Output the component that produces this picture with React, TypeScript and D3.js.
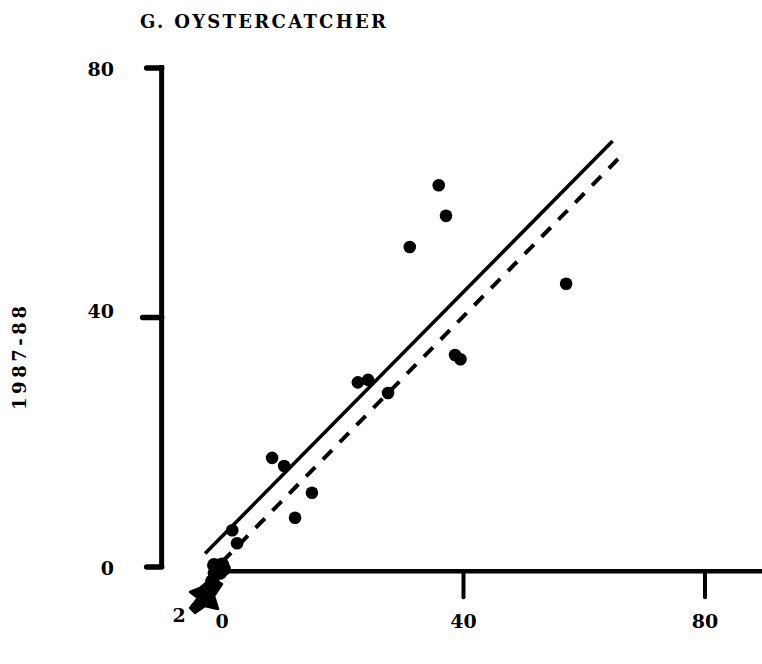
import React from "react";
import * as d3 from "d3";

// Chart text
const chartTitle = "G. OYSTERCATCHER";
const yAxisTitle = "1987-88";
const overlapLabel = "2";

// Axis ticks
const xTicks = [0, 40, 80];
const yTicks = [0, 40, 80];

// Site counts: earlier season (x) vs 1987-88 (y)
const siteX = [35.9, 37.1, 31.1, 57.0, 38.6, 39.5, 22.5, 24.2, 27.5, 8.3, 10.3, 14.9, 12.1, 1.7, 2.5];
const siteY = [61.2, 56.3, 51.3, 45.4, 34.0, 33.3, 29.6, 30.0, 27.9, 17.5, 16.2, 11.9, 7.9, 5.9, 3.8];

// Sites piled up at or below the origin
const originX = [-0.7, 0.0, -1.3, -0.3, -1.2, 0.3, -1.6, -2.0, -2.6];
const originY = [0.0, 0.4, 0.3, -0.9, -1.0, -0.3, -2.3, -3.5, -4.6];

// Off-scale marker pointing below the origin
const arrowX = [-1.66, -3.64, -5.3, -3.98, -5.3, -4.47, -2.82, -0.66, -1.32, 0];
const arrowY = [-1.76, -3.37, -4.01, -4.97, -6.57, -7.37, -6.25, -6.73, -4.65, -2.73];
const overlapLabelAt = [-7.1, -7.7];

// Fitted regression (solid) and reference line (dashed)
const fitIntercepts = [4.9, 0.8];
const fitSlopes = [0.98, 0.985];
const fitStarts = [-2.8, 0];
const fitEnds = [64.7, 65.8];

const W = 762;
const H = 664;
const FONT = "'DejaVu Serif', 'Liberation Serif', serif";

export default function App() {
  const x = d3.scaleLinear().domain([0, 80]).range([222, 705]);
  const y = d3.scaleLinear().domain([0, 80]).range([567, 68]);

  const yAxisX = x(-10);
  const xAxisY = y(-0.7);

  const line = d3
    .line<[number, number]>()
    .x((d) => x(d[0]))
    .y((d) => y(d[1]));

  const fits = fitIntercepts.map((b, i) => {
    const a = fitSlopes[i];
    const pts: [number, number][] = [
      [fitStarts[i], b + a * fitStarts[i]],
      [fitEnds[i], b + a * fitEnds[i]],
    ];
    return line(pts) as string;
  });

  const arrowPath =
    (line(arrowX.map((v, i) => [v, arrowY[i]] as [number, number])) as string) + "Z";

  const r = 6.3;

  return (
    <svg
      width={W}
      height={H}
      style={{ position: "absolute", left: 0, top: 0, background: "#fff" }}
    >
      <rect width={W} height={H} fill="#fff" />

      {/* Title */}
      <text
        x={140}
        y={28}
        fontFamily={FONT}
        fontSize={18}
        fontWeight="bold"
        textLength={246}
        lengthAdjust="spacing"
        fill="#000"
      >
        {chartTitle}
      </text>

      {/* Y axis */}
      <line
        x1={yAxisX}
        x2={yAxisX}
        y1={y(80) - 3}
        y2={y(0) + 1}
        stroke="#000"
        strokeWidth={5}
      />
      {yTicks.map((t) => (
        <g key={"yt" + t}>
          <line
            x1={yAxisX - (t === 40 ? 19 : 15)}
            x2={yAxisX}
            y1={y(t)}
            y2={y(t)}
            stroke="#000"
            strokeWidth={5.5}
            strokeLinecap="round"
          />
          <text
            x={114}
            y={y(t) + (t === 40 ? 0 : 8)}
            textAnchor="end"
            fontFamily={FONT}
            fontSize={19}
            fontWeight="bold"
            fill="#000"
          >
            {t}
          </text>
        </g>
      ))}

      {/* Y axis title */}
      <text
        transform={`translate(26, 358) rotate(-90)`}
        textAnchor="middle"
        fontFamily={FONT}
        fontSize={18}
        fontWeight="bold"
        textLength={104}
        lengthAdjust="spacing"
        fill="#000"
      >
        {yAxisTitle}
      </text>

      {/* X axis */}
      <line
        x1={x(0.6)}
        x2={W}
        y1={xAxisY}
        y2={xAxisY}
        stroke="#000"
        strokeWidth={4.5}
      />
      {xTicks.map((t) => (
        <g key={"xt" + t}>
          {t !== 0 && (
            <line
              x1={x(t)}
              x2={x(t)}
              y1={xAxisY}
              y2={xAxisY + 26}
              stroke="#000"
              strokeWidth={4}
              strokeLinecap="round"
            />
          )}
          <text
            x={x(t)}
            y={628}
            textAnchor="middle"
            fontFamily={FONT}
            fontSize={19}
            fontWeight="bold"
            fill="#000"
          >
            {t}
          </text>
        </g>
      ))}

      {/* Fitted lines */}
      <path d={fits[0]} fill="none" stroke="#000" strokeWidth={3.6} />
      <path
        d={fits[1]}
        fill="none"
        stroke="#000"
        strokeWidth={4}
        strokeDasharray="13 11"
      />

      {/* Sites */}
      {siteX.map((v, i) => (
        <circle key={"s" + i} cx={x(v)} cy={y(siteY[i])} r={r} fill="#000" />
      ))}
      {originX.map((v, i) => (
        <circle key={"o" + i} cx={x(v)} cy={y(originY[i])} r={r + 0.8} fill="#000" />
      ))}
      <path d={arrowPath} fill="#000" stroke="#000" strokeWidth={2.5} strokeLinejoin="round" />
      <text
        x={x(overlapLabelAt[0])}
        y={y(overlapLabelAt[1]) + 7}
        textAnchor="middle"
        fontFamily={FONT}
        fontSize={19}
        fontWeight="bold"
        fill="#000"
      >
        {overlapLabel}
      </text>
    </svg>
  );
}
